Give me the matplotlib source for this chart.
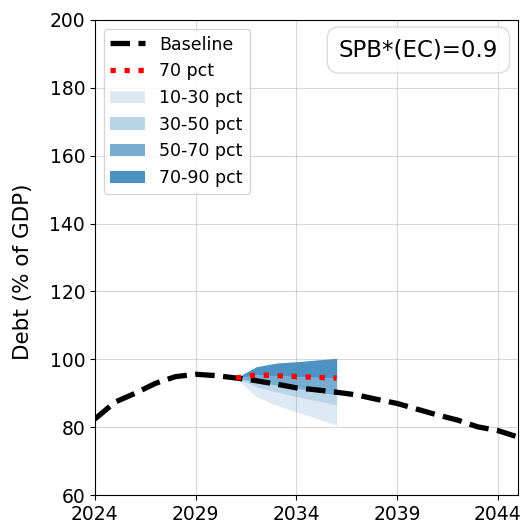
import matplotlib.pyplot as plt
import numpy as np

# Baseline debt path
years = np.arange(2024, 2046)
baseline = [82.4, 87.4, 90.0, 92.9, 94.9, 95.6, 95.2, 94.5, 93.7, 92.7, 91.6,
            91.0, 90.3, 89.5, 88.2, 87.0, 85.3, 83.6, 82.1, 80.1, 79.0, 77.1]

# Stochastic fan chart (percentiles)
fan_years = np.arange(2031, 2037)
p10 = [94.5, 89.0, 86.5, 84.5, 82.6, 80.6]
p30 = [94.5, 91.9, 90.4, 89.0, 87.8, 86.5]
p50 = [94.5, 93.4, 92.4, 91.5, 90.4, 89.5]
p70 = [94.5, 95.4, 95.2, 94.9, 94.7, 94.5]
p90 = [94.5, 97.8, 98.9, 99.3, 99.8, 100.3]

spb_label = "SPB*(EC)=0.9"

fig = plt.figure(figsize=(5.27, 5.25), dpi=100)
ax = fig.add_axes([0.18, 0.057, 0.803, 0.905])

blue = '#1f77b4'
ax.fill_between(fan_years, p10, p30, color=blue, alpha=0.15, lw=0, label='10-30 pct')
ax.fill_between(fan_years, p30, p50, color=blue, alpha=0.3, lw=0, label='30-50 pct')
ax.fill_between(fan_years, p50, p70, color=blue, alpha=0.6, lw=0, label='50-70 pct')
ax.fill_between(fan_years, p70, p90, color=blue, alpha=0.8, lw=0, label='70-90 pct')

ax.plot(years, baseline, color='black', ls='--', lw=3.8, label='Baseline')
ax.plot(fan_years, p70, color='red', ls=':', lw=3.8, label='70 pct')

ax.set_xlim(2024, 2045)
ax.set_ylim(60, 200)
ax.set_xticks(np.arange(2024, 2045, 5))
ax.set_yticks(np.arange(60, 201, 20))
ax.tick_params(labelsize=13.5)
ax.grid(True, color='gray', alpha=0.3)
ax.set_ylabel("Debt (% of GDP)", fontsize=15.5)
ax.yaxis.set_label_coords(-0.147, 0.47)

handles, labels = ax.get_legend_handles_labels()
order = [4, 5, 0, 1, 2, 3]
ax.legend([handles[i] for i in order], [labels[i] for i in order],
          loc='upper left', fontsize=12.5)

ax.text(0.953, 0.961, spb_label, transform=ax.transAxes, fontsize=16.5,
        ha='right', va='top',
        bbox=dict(boxstyle='round,pad=0.5', facecolor='white', edgecolor='lightgray', alpha=0.8))

fig.savefig("out.png", dpi=100)
